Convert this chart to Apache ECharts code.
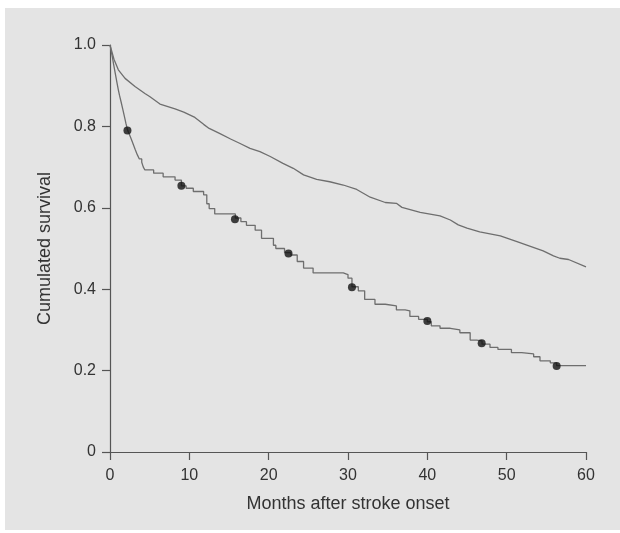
<!DOCTYPE html>
<html>
<head>
<meta charset="utf-8">
<script src="https://cdn.jsdelivr.net/npm/echarts@6/dist/echarts.min.js"></script>
<style>
html,body{margin:0;padding:0;background:#fff;}
#bg{position:absolute;left:5px;top:8px;width:615px;height:522px;background:#e4e4e4;}
#chart{position:absolute;left:0;top:0;width:620px;height:533px;}
</style>
</head>
<body>
<div id="bg"></div>
<div id="chart"></div>
<script>
// upper curve (months, survival)
const upperCurve = [
  [0,1.0],[0.5,0.965],[1.05,0.939],[1.9,0.918],[3.15,0.898],[4.4,0.881],[5.04,0.873],
  [6.3,0.855],[8.2,0.843],[9.3,0.835],[10.7,0.822],[11.8,0.805],[12.5,0.795],[13.8,0.783],
  [15.2,0.769],[16.4,0.758],[17.65,0.746],[18.9,0.738],[20.2,0.726],[21.8,0.709],[23.1,0.697],
  [24.4,0.681],[26.05,0.67],[27.7,0.664],[29.4,0.656],[31.1,0.645],[32.8,0.626],[34.7,0.613],
  [36.1,0.611],[36.8,0.601],[39.1,0.589],[41.6,0.58],[42.9,0.57],[43.9,0.558],[45.0,0.55],
  [46.6,0.541],[49.2,0.531],[51.3,0.517],[52.9,0.506],[54.6,0.494],[55.9,0.482],[56.7,0.476],
  [57.8,0.473],[60,0.455]
]
// lower curve, step changes
const lowerCurve = [
  [0,1.0],[0.15,0.985],[0.3,0.97],[0.45,0.953],[0.6,0.937],[0.75,0.921],[0.9,0.905],[1.05,0.89],
  [1.2,0.876],[1.4,0.86],[1.6,0.843],[1.8,0.826],[2.0,0.808],[2.2,0.792],[2.45,0.78],[2.7,0.768],
  [2.95,0.755],[3.2,0.742],[3.45,0.73],[3.7,0.72],[4.0,0.712],[4.2,0.7],[4.4,0.693],
  [5.5,0.685],[6.7,0.676],[8.2,0.668],[9.0,0.654],[9.6,0.648],[10.5,0.64],[11.8,0.632],[12.2,0.61],
  [12.5,0.598],[13.2,0.585],[15.8,0.575],[16.5,0.566],[17.2,0.557],[18.3,0.545],[19.1,0.525],
  [20.6,0.508],[20.9,0.5],[22.0,0.49],[22.8,0.484],[23.6,0.468],[24.4,0.452],[25.6,0.44],
  [29.4,0.436],[30.0,0.427],[30.5,0.406],[31.3,0.396],[32.1,0.375],[33.4,0.363],[34.7,0.359],
  [36.1,0.349],[37.2,0.347],[37.8,0.333],[38.9,0.326],[40.0,0.32],[40.5,0.31],[41.6,0.304],
  [42.9,0.30],[44.1,0.293],[45.4,0.275],[46.2,0.273],[46.9,0.265],[47.9,0.257],[48.9,0.252],
  [50.6,0.244],[51.9,0.241],[53.4,0.234],[54.2,0.224],[55.5,0.219],[56.3,0.212],[60,0.212]
]
// dot markers on lower curve
const lowerDots = [
  [2.2,0.79],[9.0,0.654],[15.75,0.572],[22.5,0.488],[30.5,0.405],[40.0,0.322],[46.85,0.267],[56.3,0.211]
]
const xTicks = [0,10,20,30,40,50,60]
const yTicks = [0,0.2,0.4,0.6,0.8,1.0]

let chart = echarts.init(document.getElementById('chart'))
const axisCol = '#555'
const txtCol = '#333'
chart.setOption({
  animation:false,
  textStyle:{fontFamily:'Liberation Sans, Arial, sans-serif'},
  grid:{left:110,right:34,top:45,bottom:81},
  xAxis:{
    type:'value',min:xTicks[0],max:xTicks[xTicks.length-1],interval:10,
    name:'Months after stroke onset',nameLocation:'middle',nameGap:43,
    nameTextStyle:{fontSize:18,color:txtCol},
    axisLine:{lineStyle:{color:axisCol,width:1.2}},
    axisTick:{show:true,length:8,lineStyle:{color:axisCol,width:1.2}},
    axisLabel:{fontSize:16,color:txtCol,margin:16},
    splitLine:{show:false}
  },
  yAxis:{
    type:'value',min:yTicks[0],max:yTicks[yTicks.length-1],interval:0.2,
    name:'Cumulated survival',nameLocation:'middle',nameGap:56,
    nameTextStyle:{fontSize:18,color:txtCol},
    axisLine:{show:true,lineStyle:{color:axisCol,width:1.2}},
    axisTick:{show:true,length:8,lineStyle:{color:axisCol,width:1.2}},
    axisLabel:{fontSize:16,color:txtCol,margin:14,
      formatter:v => v === 0 ? '0' : v.toFixed(1)},
    splitLine:{show:false}
  },
  series:[
    {type:'line',data:upperCurve,showSymbol:false,
     lineStyle:{color:'#6e6e6e',width:1.3}},
    {type:'line',data:lowerCurve,step:'end',showSymbol:false,
     lineStyle:{color:'#6e6e6e',width:1.3}},
    {type:'scatter',data:lowerDots,symbolSize:8,z:5,
     itemStyle:{color:'#111'}}
  ]
})
</script>
</body>
</html>
